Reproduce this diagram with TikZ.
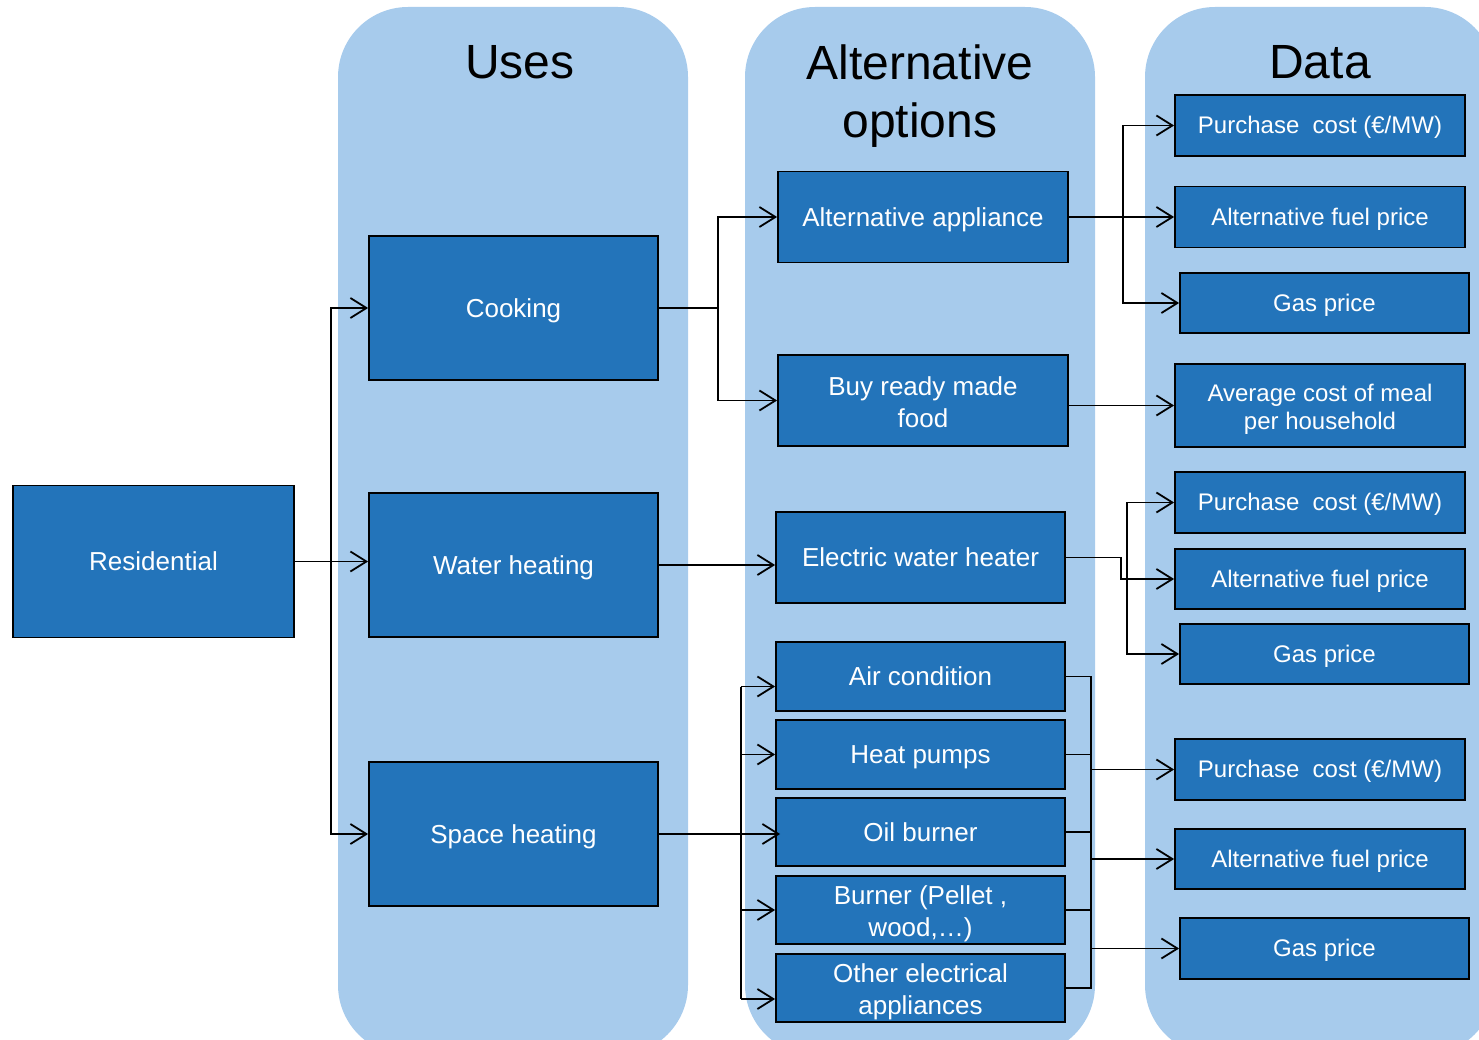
\documentclass[tikz,border=0pt]{standalone}
\usepackage{fontspec}
\setmainfont{Liberation Sans}
\usetikzlibrary{arrows.meta}
\definecolor{colbg}{RGB}{167,203,236}
\definecolor{boxblue}{RGB}{35,116,186}
\newcommand\lst{\rule[-0.212em]{0pt}{1.117em}}
\newcommand\tst{\rule{0pt}{1.02em}}
\begin{document}
\begin{tikzpicture}[x=1pt,y=-1pt,
 box/.style={draw=black, line width=1.8pt, fill=boxblue, text=white, align=center, inner sep=0pt, font=\fontsize{26}{32}\selectfont, execute at begin node=\lst, execute at end node=\lst},
 dbox/.style={box, font=\fontsize{24}{28}\selectfont},
 head/.style={font=\fontsize{48}{58}\selectfont, align=center, text=black},
 column/.style={fill=colbg, rounded corners=70pt},
 conn/.style={line width=1.8pt, draw=black},
 arr/.style={conn, -{Straight Barb[length=16pt,width=20pt]}},
]
\useasboundingbox (0,0) rectangle (1479,1040);
\clip (0,0) rectangle (1479,1040);
% columns
\fill[column] (338,7) rectangle (688,1055);
\fill[column] (745,7) rectangle (1095,1055);
\fill[column] (1145,7) rectangle (1495,1055);
% headers
\node[head] (hUses) at (520,62) {Uses};
\node[head] (hAlt) at (920,96) {Alternative\\options};
\node[head] (hData) at (1320,62) {Data};
% uses
\node[box, minimum width=281, minimum height=152] (res) at (153.5,561.5) {Residential};
\node[box, minimum width=289, minimum height=144] (cook) at (513.5,308) {Cooking};
\node[box, minimum width=289, minimum height=144] (water) at (513.5,565) {Water heating};
\node[box, minimum width=289, minimum height=144] (space) at (513.5,834) {Space heating};
% alternatives
\node[box, minimum width=290, minimum height=91] (altapp) at (923,217) {Alternative appliance};
\node[box, minimum width=290, minimum height=91] (buy) at (923,400.5) {\tst Buy ready made\\food\lst};
\node[box, minimum width=289, minimum height=91] (ewh) at (920.5,557.5) {Electric water heater};
\node[box, minimum width=289, minimum height=69] (ac) at (920.5,676.5) {Air condition};
\node[box, minimum width=289, minimum height=69] (hp) at (920.5,754.5) {Heat pumps};
\node[box, minimum width=289, minimum height=68] (oil) at (920.5,832) {Oil burner};
\node[box, minimum width=289, minimum height=68] (burn) at (920.5,910) {\tst Burner (Pellet ,\\wood,…)\lst};
\node[box, minimum width=289, minimum height=68] (other) at (920.5,988) {\tst Other electrical\\appliances\lst};
% data
\node[dbox, minimum width=290, minimum height=61] (pc1) at (1320,125.5) {Purchase\ \ cost (€/MW)};
\node[dbox, minimum width=290, minimum height=61] (af1) at (1320,217) {Alternative fuel price};
\node[dbox, minimum width=289, minimum height=60] (gp1) at (1324.5,303) {Gas price};
\node[dbox, minimum width=290, minimum height=83] (avg) at (1320,405.5) {\tst Average cost of meal\\per household\lst};
\node[dbox, minimum width=290, minimum height=61] (pc2) at (1320,502.5) {Purchase\ \ cost (€/MW)};
\node[dbox, minimum width=290, minimum height=60] (af2) at (1320,579) {Alternative fuel price};
\node[dbox, minimum width=289, minimum height=60] (gp2) at (1324.5,654) {Gas price};
\node[dbox, minimum width=290, minimum height=61] (pc3) at (1320,769.5) {Purchase\ \ cost (€/MW)};
\node[dbox, minimum width=290, minimum height=60] (af3) at (1320,859) {Alternative fuel price};
\node[dbox, minimum width=289, minimum height=61] (gp3) at (1324.5,948.5) {Gas price};
% connectors: residential
\coordinate (j1) at (331,561.5);
\draw[conn] (res.east) -- (j1);
\draw[arr] (j1) |- (cook.west);
\draw[arr] (j1) -- (water.west |- j1);
\draw[arr] (j1) |- (space.west);
% cooking
\coordinate (j2) at (718,308);
\draw[conn] (cook.east) -- (j2);
\draw[arr] (j2) |- (altapp.west);
\draw[arr] (j2) |- (buy.west);
% alternative appliance
\coordinate (j3) at (1123,217);
\draw[arr] (altapp.east) -- (af1.west);
\draw[arr] (j3) |- (pc1.west);
\draw[arr] (j3) |- (gp1.west);
% buy ready made
\draw[arr] (buy.east |- avg.west) -- (avg.west);
% water heating
\draw[arr] (water.east) -- (ewh.west |- water.east);
\draw[arr] (ewh.east) -- ++(55,0) |- (af2.west);
\coordinate (j5) at (1127,579);
\draw[arr] (j5) |- (pc2.west);
\draw[arr] (j5) |- (gp2.west);
% space heating
\draw[arr] (space.east) -- ([xshift=5pt]oil.west |- space.east);
\coordinate (jb1) at (741,686.5);
\coordinate (jb2) at (741,999);
\draw[conn] (jb1) -- (jb2);
\draw[arr] (jb1) -- (ac.west |- jb1);
\draw[arr] (jb2) -- (other.west |- jb2);
\draw[arr] (jb1 |- hp.west) -- (hp.west);
\draw[arr] (jb1 |- burn.west) -- (burn.west);
% right bracket
\coordinate (jr1) at (1091,676.5);
\coordinate (jr2) at (1091,988);
\draw[conn] (ac.east) -- (jr1) -- (jr2) -- (other.east);
\draw[conn] (hp.east) -- (jr1 |- hp.east);
\draw[conn] (oil.east) -- (jr1 |- oil.east);
\draw[conn] (burn.east) -- (jr1 |- burn.east);
\draw[arr] (jr1 |- pc3.west) -- (pc3.west);
\draw[arr] (jr1 |- af3.west) -- (af3.west);
\draw[arr] (jr1 |- gp3.west) -- (gp3.west);
\end{tikzpicture}
\end{document}
